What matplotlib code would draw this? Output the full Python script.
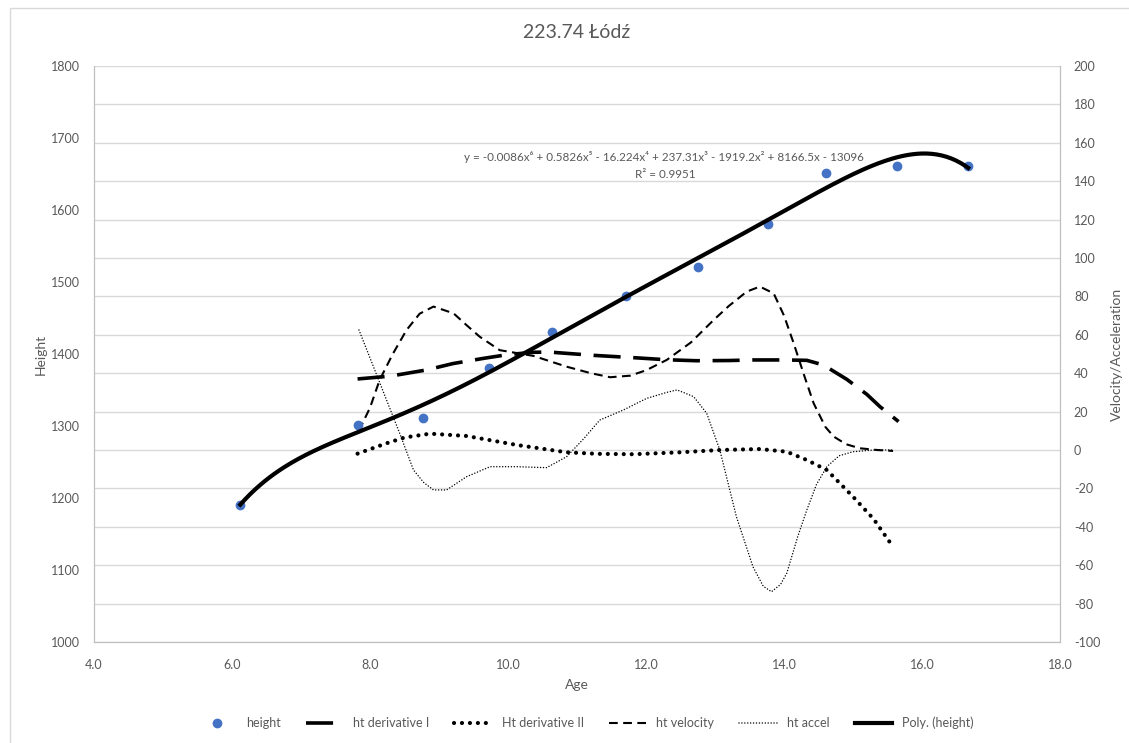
import numpy as np
import matplotlib
matplotlib.use("Agg")
import matplotlib.pyplot as plt
from matplotlib.patches import Rectangle
from matplotlib.ticker import FuncFormatter

plt.rcParams['font.family'] = ['Lato', 'DejaVu Sans']
plt.rcParams['axes.unicode_minus'] = False

# measured heights
age = [6.12, 7.83, 8.77, 9.72, 10.64, 11.71, 12.75, 13.77, 14.61, 15.64, 16.67]
height = [1190, 1301, 1311, 1381, 1431, 1481, 1521, 1581, 1651, 1661, 1661]

# right axis series
d1_x = [7.82, 8.3, 8.82, 9.2, 9.64, 10.0, 10.37, 10.6, 11.24, 11.86, 12.3, 12.73,
        13.2, 13.55, 14.0, 14.33, 14.57, 14.91, 15.2, 15.39, 15.66]
d1_y = [37, 38.5, 41.7, 45, 47.7, 49.7, 50.9, 51, 49.3, 48, 47, 46.5,
        46.6, 46.9, 46.9, 46.7, 44.3, 36.8, 29, 22.6, 14.8]

d2_x = [7.82, 8.24, 8.5, 8.87, 9.4, 10.13, 10.85, 11.3, 11.82, 12.5, 13.07, 13.65,
        14.04, 14.33, 14.62, 15.0, 15.3, 15.58]
d2_y = [-1.9, 3.5, 6.5, 8.5, 7.3, 2.6, -1.2, -2.0, -2.2, -1.2, 0, 0.5,
        -0.9, -5.2, -10.4, -24.3, -36, -50.4]

vel_x = [7.84, 8.0, 8.14, 8.33, 8.53, 8.72, 8.92, 9.21, 9.4, 9.59, 9.88, 10.37,
         10.85, 11.2, 11.48, 11.77, 12.0, 12.3, 12.65, 12.98, 13.2, 13.46, 13.65,
         13.85, 14.0, 14.14, 14.3, 14.43, 14.6, 14.72, 14.9, 15.1, 15.35, 15.58]
vel_y = [10.1, 22, 36.5, 50, 62.5, 71, 74.7, 71.2, 65, 59, 52, 49,
         43.4, 40, 37.9, 38.7, 41.5, 46.9, 56, 67.7, 75, 82.5, 85.1,
         81.6, 70, 55.6, 38, 24.3, 12, 7, 3, 0.9, 0, -0.5]

acc_x = [7.84, 8.05, 8.24, 8.43, 8.63, 8.78, 8.92, 9.11, 9.4, 9.74, 10.13, 10.56,
         10.85, 11.1, 11.33, 11.67, 12.01, 12.3, 12.45, 12.69, 12.88, 13.07, 13.31,
         13.55, 13.7, 13.82, 13.95, 14.04, 14.2, 14.33, 14.47, 14.62, 14.8, 15.0,
         15.3, 15.58]
acc_y = [62.5, 43.4, 26, 8.7, -10.4, -17, -20.8, -20.8, -13.9, -8.7, -8.7, -9.2,
         -3.5, 6, 15.6, 20.8, 26.9, 30, 31.3, 27.8, 19.1, 0, -34.7,
         -60.8, -71, -73.8, -70, -64.2, -45, -31.3, -18, -8.7, -3, -0.9,
         0, 0]

equation = ("y = -0.0086x\u2076 + 0.5826x\u2075 - 16.224x\u2074 + 237.31x\u00b3"
            " - 1919.2x\u00b2 + 8166.5x - 13096")
r2_text = "R\u00b2 = 0.9951"

grey = '#595959'
fig = plt.figure(figsize=(11.29, 7.43), dpi=100)
ax = fig.add_axes([94/1129, 1 - 642/743, (1060 - 94)/1129, (642 - 66)/743])
ax2 = ax.twinx()
ax.set_zorder(ax2.get_zorder() + 1)
ax.patch.set_visible(False)

# right axis series
l_d1, = ax2.plot(d1_x, d1_y, color='black', lw=2.6, dash_capstyle='butt')
l_d1.set_dashes([7.5, 3.5])
l_d2, = ax2.plot(d2_x, d2_y, color='black', lw=3, dash_capstyle='round')
l_d2.set_dashes([0.01, 1.9])
l_vel, = ax2.plot(vel_x, vel_y, color='black', lw=1.5)
l_vel.set_dashes([4.2, 2.6])
l_acc, = ax2.plot(acc_x, acc_y, color='black', lw=1.1, dash_capstyle='round')
l_acc.set_dashes([0.01, 1.9])

# height + polynomial trend
coef = np.polyfit(age, height, 6)
xs = np.linspace(age[0], age[-1], 300)
l_poly, = ax.plot(xs, np.polyval(coef, xs), color='black', lw=3, zorder=3)
l_h, = ax.plot(age, height, 'o', color='#4472C4', ms=6, zorder=2, lw=0)

ax.set_xlim(4, 18)
ax.set_ylim(1000, 1800)
ax2.set_ylim(-100, 200)
ax.set_xticks(np.arange(4, 18.1, 2))
ax.set_yticks(np.arange(1000, 1801, 100))
ax2.set_yticks(np.arange(-100, 201, 20))
ax.xaxis.set_major_formatter(FuncFormatter(lambda v, p: f"{v:.1f}"))
ax2.yaxis.set_major_formatter(FuncFormatter(lambda v, p: f"{int(v)}"))
ax2.grid(axis='y', color='#d9d9d9', lw=1)
ax2.set_axisbelow(True)

for a in (ax, ax2):
    a.tick_params(length=0, labelsize=9, labelcolor=grey, pad=10)
    for s in ('left', 'right', 'bottom'):
        a.spines[s].set_color('#bfbfbf')
    a.spines['top'].set_visible(False)
ax.tick_params(axis='x', pad=12)

ax.set_xlabel('Age', fontsize=10, color=grey, labelpad=6)
ax.set_ylabel('Height', fontsize=10, color=grey, labelpad=3)
ax2.set_ylabel('Velocity/Acceleration', fontsize=10, color=grey, labelpad=8)
fig.suptitle('223.74 \u0141\u00f3d\u017a', x=577/1129, y=1 - 33/743, va='center',
             fontsize=14, color=grey)

# trendline label, positioned in data units
ax.text(4 + (664 - 94)/69, 1800 - (157 - 66)/0.72, equation, fontsize=8.4,
        color=grey, ha='center', va='center', zorder=5)
ax.text(4 + (665 - 94)/69, 1800 - (175 - 66)/0.72, r2_text, fontsize=8.4,
        color=grey, ha='center', va='center', zorder=5)

fig.legend([l_h, l_d1, l_d2, l_vel, l_acc, l_poly],
           ['height', 'ht derivative I', 'Ht derivative II', 'ht velocity',
            'ht accel', 'Poly. (height)'],
           loc='center', bbox_to_anchor=(586/1129, 1 - 723/743), ncol=6,
           frameon=False, fontsize=9, labelcolor=grey, handlelength=3,
           columnspacing=2.0, handletextpad=0.8)

fig.add_artist(Rectangle((10/1129, -0.02), 1.05, 1.02 - 8/743, transform=fig.transFigure,
                         fill=False, edgecolor='#d9d9d9', lw=1))

fig.savefig('out.png', dpi=100, facecolor='white')
